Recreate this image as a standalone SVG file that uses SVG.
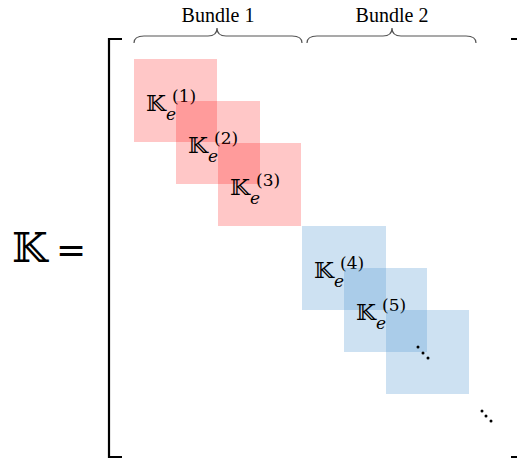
<svg xmlns="http://www.w3.org/2000/svg" width="517" height="463" viewBox="0 0 517 463">
  <style>
    .red { fill: #ff0000; fill-opacity: 0.22; }
    .blue { fill: #5b9bd5; fill-opacity: 0.3; }
    .bb { font-family: "DejaVu Serif", "DejaVu Sans", serif; fill: #000; }
    .k { font-size: 23px; }
    .sub { font-size: 17px; font-style: italic; font-family: "DejaVu Serif", serif; }
    .sup { font-size: 17px; font-family: "DejaVu Serif", serif; }
    .title { font-family: "Liberation Serif", serif; font-size: 20px; fill: #000; }
    .brace { fill: none; stroke: #555; stroke-width: 1.2; }
    .bracket { fill: none; stroke: #000; stroke-width: 2.2; }
  </style>
  <rect width="517" height="463" fill="#fff"/>

  <g id="bundle1-label">
    <text class="title" x="218" y="22" text-anchor="middle">Bundle 1</text>
    <path class="brace" d="M134,43 Q134,36 144,36 L208,36 Q217,36 217,28 Q217,36 226,36 L292,36 Q302,36 302,43"/>
  </g>
  <g id="bundle2-label">
    <text class="title" x="392" y="22" text-anchor="middle">Bundle 2</text>
    <path class="brace" d="M307,43 Q307,36 317,36 L383,36 Q392,36 392,28 Q392,36 401,36 L466,36 Q476,36 476,43"/>
  </g>

  <g id="lhs">
    <text class="bb" x="12" y="262" font-size="41">𝕂</text>
    <text font-family="DejaVu Sans, sans-serif" x="56" y="262" font-size="36">=</text>
  </g>

  <g id="matrix-bracket">
    <path class="bracket" d="M122,39 L109,39 L109,457 L122,457"/>
    <path class="bracket" d="M511,39 L517,39 M511,457 L517,457"/>
  </g>

  <g id="block1">
    <rect class="red" x="134" y="59" width="83" height="83"/>
    <text class="bb k" x="146" y="111">𝕂</text>
    <text class="sub" x="166" y="120">e</text>
    <text class="sup" x="172" y="102">(1)</text>
  </g>
  <g id="block2">
    <rect class="red" x="176" y="101" width="84" height="83"/>
    <text class="bb k" x="188" y="153">𝕂</text>
    <text class="sub" x="208" y="162">e</text>
    <text class="sup" x="214" y="144">(2)</text>
  </g>
  <g id="block3">
    <rect class="red" x="218" y="143" width="83" height="83"/>
    <text class="bb k" x="230" y="195">𝕂</text>
    <text class="sub" x="250" y="204">e</text>
    <text class="sup" x="256" y="186">(3)</text>
  </g>
  <g id="block4">
    <rect class="blue" x="302" y="226" width="84" height="84"/>
    <text class="bb k" x="314" y="278">𝕂</text>
    <text class="sub" x="334" y="287">e</text>
    <text class="sup" x="340" y="269">(4)</text>
  </g>
  <g id="block5">
    <rect class="blue" x="344" y="268" width="83" height="84"/>
    <text class="bb k" x="356" y="320">𝕂</text>
    <text class="sub" x="376" y="329">e</text>
    <text class="sup" x="382" y="311">(5)</text>
  </g>
  <g id="block6">
    <rect class="blue" x="386" y="310" width="83" height="84"/>
    <circle cx="418" cy="347" r="1.5"/>
    <circle cx="423" cy="353" r="1.5"/>
    <circle cx="428" cy="358" r="1.5"/>
  </g>
  <g id="trailing-dots">
    <circle cx="482" cy="411" r="1.5"/>
    <circle cx="486" cy="416" r="1.5"/>
    <circle cx="491" cy="421" r="1.5"/>
  </g>
</svg>
